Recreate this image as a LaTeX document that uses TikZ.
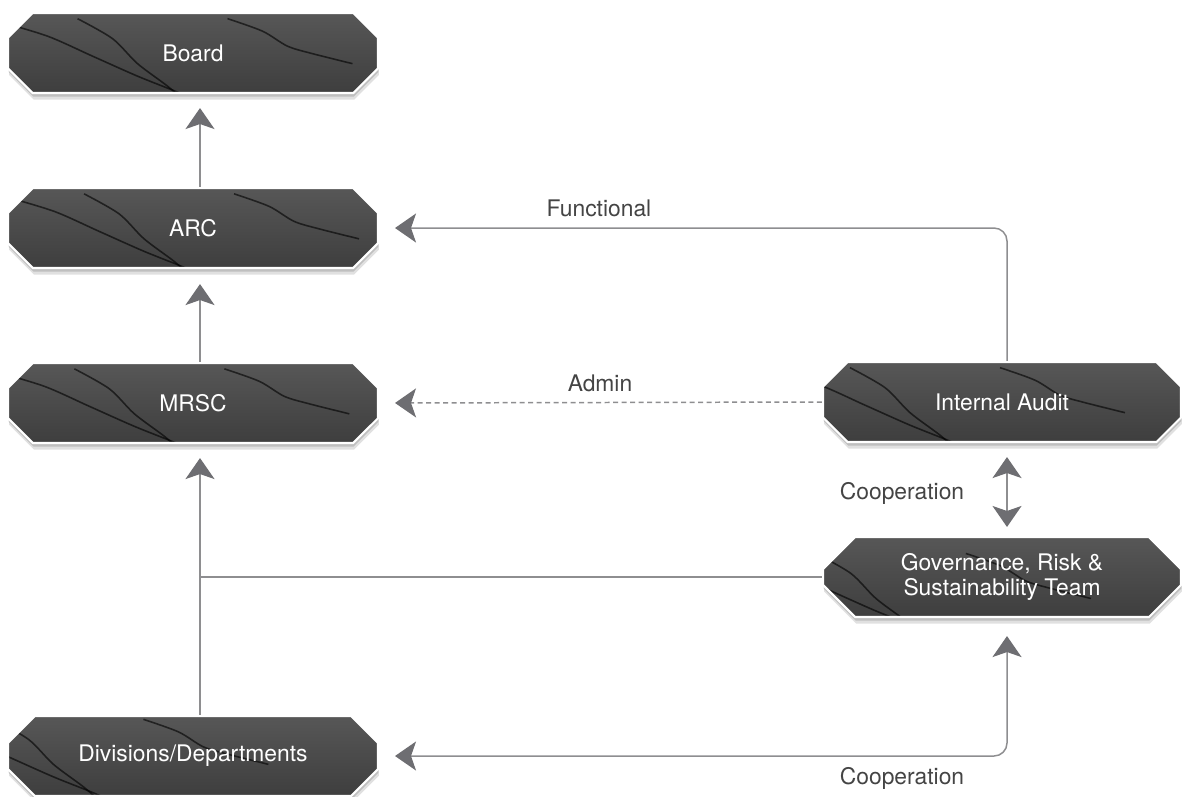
\documentclass[tikz,border=0pt]{standalone}
\usepackage{fontspec}
\setmainfont{TeX Gyre Heros}
\usetikzlibrary{shapes.misc,shadows,arrows.meta}

\definecolor{linegrey}{HTML}{8E8E90}
\definecolor{tipgrey}{HTML}{6E6E72}
\definecolor{labelgrey}{HTML}{444444}
\definecolor{stonehi}{HTML}{575757}
\definecolor{stonelo}{HTML}{3E3E3E}

\tikzset{
  crack/.style={draw=black, opacity=0.6, line width=0.9pt},
  slab/.style={chamfered rectangle, chamfered rectangle sep=0.32cm,
    minimum width=7.4cm, minimum height=1.6cm, inner sep=0pt,
    draw=white, line width=1.2pt, top color=stonehi, bottom color=stonelo,
    text=white, align=center, font=\fontsize{13}{14.7}\selectfont,
    drop shadow={shadow xshift=0.02cm, shadow yshift=-0.13cm, opacity=0.12, fill=black},
    drop shadow={shadow xshift=0.01cm, shadow yshift=-0.07cm, opacity=0.15, fill=black},
    path picture={
      \begin{scope}[shift={(path picture bounding box.center)}, x=1cm, y=1cm]
        \draw[crack] plot[smooth] coordinates {(-3.3,0.8) (-2.3,0.5) (-1.4,0.1) (-0.5,-0.3) (0.3,-0.62) (0.8,-0.85)};
        \draw[crack] plot[smooth] coordinates {(-1.7,0.85) (-1.0,0.45) (-0.5,-0.05) (0.1,-0.5) (0.5,-0.85)};
        \draw[crack] plot[smooth] coordinates {(1.3,0.85) (2.0,0.6) (2.5,0.3) (3.0,0.15) (3.8,-0.05)};
        \draw[crack, opacity=0.3] plot[smooth] coordinates {(-3.7,-0.55) (-2.8,-0.7) (-2.2,-0.85)};
      \end{scope}
    }},
  link/.style={draw=linegrey, line width=0.85pt,
    >={Stealth[length=0.42cm, width=0.58cm, inset=0.1cm, color=tipgrey]}},
  tag/.style={text=labelgrey, font=\fontsize{13}{15}\selectfont},
}

\begin{document}
\begin{tikzpicture}[x=0.02cm, y=-0.02cm]
  \useasboundingbox (0,0) rectangle (1183,796);
  % boxes left
  \node[slab] (board) at (193,53) {Board};
  \node[slab] (arc) at (193,228) {ARC};
  \node[slab] (mrsc) at (193,403) {MRSC};
  \node[slab] (divs) at (193,756) {Divisions/Departments};
  % boxes right
  \node[slab, minimum width=7.16cm] (audit) at (1002,402) {Internal Audit};
  \node[slab, minimum width=7.16cm] (grst) at (1002,577) {Governance, Risk \&\\Sustainability Team};

  % reporting line upwards
  \draw[link, ->, shorten >=0.28cm] ([xshift=0.14cm]arc.north) -- ([xshift=0.14cm]board.south);
  \draw[link, ->, shorten >=0.3cm] ([xshift=0.14cm]mrsc.north) -- ([xshift=0.14cm]arc.south);
  \draw[link, ->, shorten >=0.28cm] ([xshift=0.14cm]divs.north) -- ([xshift=0.14cm]mrsc.south);
  \coordinate (tee) at (200,577);
  \draw[link] (grst.west) -- (tee); % joins the upward line

  % internal audit
  \draw[link, ->, rounded corners=0.26cm, shorten >=0.32cm] ([xshift=0.1cm]audit.north) |- (arc.east);
  \node[tag] (functional) at (599,208) {Functional};
  \draw[link, ->, dash pattern=on 0.1cm off 0.07cm, shorten >=0.32cm] (audit.west) -- (mrsc.east);
  \node[tag] (admin) at (600,383) {Admin};

  % cooperation
  \draw[link, <->, shorten <=0.28cm, shorten >=0.18cm] ([xshift=0.1cm]audit.south) -- ([xshift=0.1cm]grst.north);
  \node[tag] (coopup) at (902,493) {Cooperation};
  \draw[link, <->, rounded corners=0.26cm, shorten <=0.36cm, shorten >=0.32cm] ([xshift=0.1cm]grst.south) |- (divs.east);
  \node[tag] (coopdown) at (902,778) {Cooperation};
\end{tikzpicture}
\end{document}
